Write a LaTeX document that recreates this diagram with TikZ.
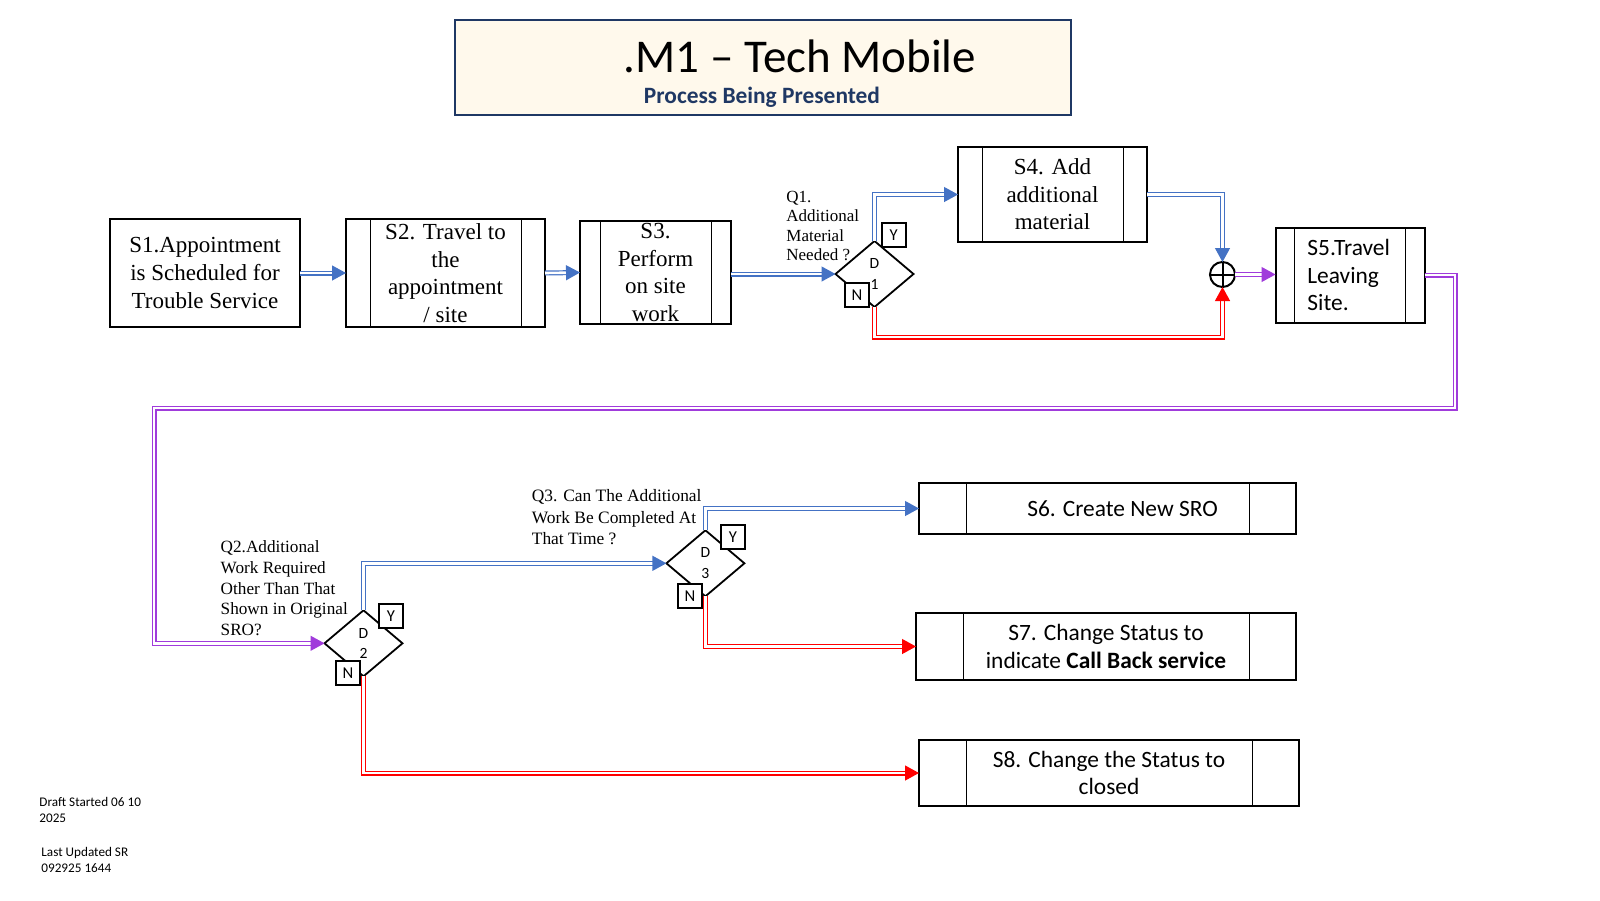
\documentclass[tikz,border=0pt]{standalone}
\usepackage{fontspec}
\setmainfont{Liberation Serif}
\setsansfont{Carlito}
\usepackage{tikz}
\usepackage{xcolor}
\usetikzlibrary{shapes.geometric,arrows.meta}

\begin{document}
\begin{tikzpicture}[x=0.5pt,y=-0.5pt,
  every label/.style={inner sep=0pt},
  mybox/.style={draw,line width=1pt,inner sep=0pt,outer sep=0pt},
  myserif/.style={font=\fontsize{11.5}{13.8}\selectfont,align=center},
  mysans/.style={font=\sffamily\fontsize{11.7}{13.7}\selectfont,align=center},
  mydia/.style={diamond,draw,line width=0.9pt,minimum width=39pt,minimum height=33pt,inner sep=0pt,outer sep=0pt,font=\sffamily\fontsize{7.8}{10.3}\selectfont,align=center},
  myyn/.style={draw,line width=0.9pt,fill=white,minimum size=12pt,inner sep=0pt,font=\sffamily\fontsize{8.3}{8.5}\selectfont},
  myq/.style={anchor=west,align=left,inner sep=0pt},
  myarr/.style={draw=#1,double=white,line width=0.6pt,double distance=1.3pt,-{Triangle[length=7pt,width=7.5pt]}}]
\useasboundingbox (0,0) rectangle (1600,900);
\definecolor{navy}{HTML}{1F3864}
\definecolor{cream}{HTML}{FFF9EC}
\definecolor{flowblue}{HTML}{4472C4}
\definecolor{flowred}{HTML}{FF0000}
\definecolor{flowpurple}{HTML}{A03BDB}

% title
\node[mybox,draw=navy,fill=cream,minimum width=308pt,minimum height=47.5pt] (title) at (763,67.7) {};
\node (ttl) at (800,56) {\sffamily\fontsize{23.5}{28}\selectfont .M1 – Tech Mobile};
\node[text=navy] (sub) at (762,97) {\sffamily\bfseries\fontsize{11.7}{13.7}\selectfont Process Being Presented};

% steps
\node[mybox,minimum width=95pt,minimum height=54pt,label={[myserif]center:S1.Appointment\\is Scheduled for\\Trouble Service}] (S1) at (205,273) {};
\node[mybox,minimum width=99.5pt,minimum height=54pt,label={[myserif]center:S2. Travel to\\the\\appointment\\/ site}] (S2) at (445.5,273) {};
\node[mybox,minimum width=75.5pt,minimum height=51.5pt,label={[myserif]center:S3.\\Perform\\on site\\work}] (S3) at (655.5,272.5) {};
\node[mybox,minimum width=94.5pt,minimum height=47.5pt,label={[myserif]center:S4. Add\\additional\\material}] (S4) at (1052.5,194.5) {};
\node[mybox,minimum width=74.5pt,minimum height=47.5pt,label={[mysans,align=left,anchor=west,xshift=15.75pt]west:S5.Travel\\Leaving\\Site.}] (S5) at (1350,275) {};
\node[mybox,minimum width=188.5pt,minimum height=25.5pt,label={[mysans,xshift=7.5pt]center:S6. Create New SRO}] (S6) at (1107.5,508.5) {};
\node[mybox,minimum width=190pt,minimum height=33.5pt,label={[mysans]center:S7. Change Status to\\indicate \textbf{Call Back service}}] (S7) at (1106,646.5) {};
\node[mybox,minimum width=190pt,minimum height=33pt,label={[mysans]center:S8. Change the Status to\\closed}] (S8) at (1109,773) {};
\foreach \bx/\d in {S2/12pt,S3/10pt,S4/12pt,S5/9.5pt,S6/23.5pt,S7/23.5pt,S8/23.5pt}
  {\draw[line width=0.5pt] ([xshift=\d]\bx.north west) -- ([xshift=\d]\bx.south west)
     ([xshift=-\d]\bx.north east) -- ([xshift=-\d]\bx.south east);}

% decisions
\node[mydia] (D1) at (874.5,274) {D\\1};
\node[mydia] (D2) at (363.5,643.3) {D\\2};
\node[mydia] (D3) at (705.4,563.3) {D\\3};
\node[circle,draw,line width=1pt,minimum size=12.5pt,inner sep=0pt,outer sep=0pt] (jn) at (1222.5,274.5) {};
\draw[line width=1pt] (jn.north) -- (jn.south) (jn.west) -- (jn.east);

% questions
\node[myq,font=\fontsize{8.5}{9.7}\selectfont] (q1) at (786,225.8) {Q1.\\Additional\\Material\\Needed ?};
\node[myq,font=\fontsize{8.6}{10.4}\selectfont] (q2) at (220.3,588.3) {Q2.Additional\\Work Required\\Other Than That\\Shown in Original\\SRO?};
\node[myq,font=\fontsize{8.7}{10.75}\selectfont] (q3) at (531.5,517.3) {Q3. Can The Additional\\Work Be Completed At\\That Time ?};

% connectors
\draw[myarr=flowblue] (S1.east) -- (S2.west);
\draw[myarr=flowblue] (S2.east) -- (S3.west);
\draw[myarr=flowblue] (S3.east |- D1.west) -- (D1.west);
\draw[myarr=flowblue] (D1.north) |- (S4.west);
\draw[myarr=flowblue] (S4.east) -| (jn.north);
\draw[myarr=flowred] (D1.south) -- ++(0,30) -| (jn.south);
\draw[myarr=flowpurple] (jn.east) -- (jn.east -| S5.west);
\coordinate (r1) at (1455,408);
\coordinate (r2) at (154,408);
\draw[myarr=flowpurple] (S5.east) -| (r1) -- (r2) |- (D2.west);
\draw[myarr=flowblue] (D2.north) |- (D3.west);
\draw[myarr=flowblue] (D3.north) |- (S6.west);
\draw[myarr=flowred] (D3.south) |- (S7.west);
\draw[myarr=flowred] (D2.south) |- (S8.west);

% yes / no tags
\foreach \nm/\txt/\pos in {y1/Y/{(893.6,234.7)},n1/N/{(857,294.7)},y2/Y/{(391,616)},n2/N/{(348,673.3)},y3/Y/{(733,537)},n3/N/{(690,596)}}
  {\node[myyn] (\nm) at \pos {\txt};}

% footer
\node[myq,font=\sffamily\fontsize{6.6}{7.9}\selectfont] (draft) at (39,810) {Draft Started 06 10\\2025};
\node[myq,font=\sffamily\fontsize{6.6}{7.9}\selectfont] (upd) at (41,860) {Last Updated SR\\092925 1644};
\end{tikzpicture}
\end{document}
